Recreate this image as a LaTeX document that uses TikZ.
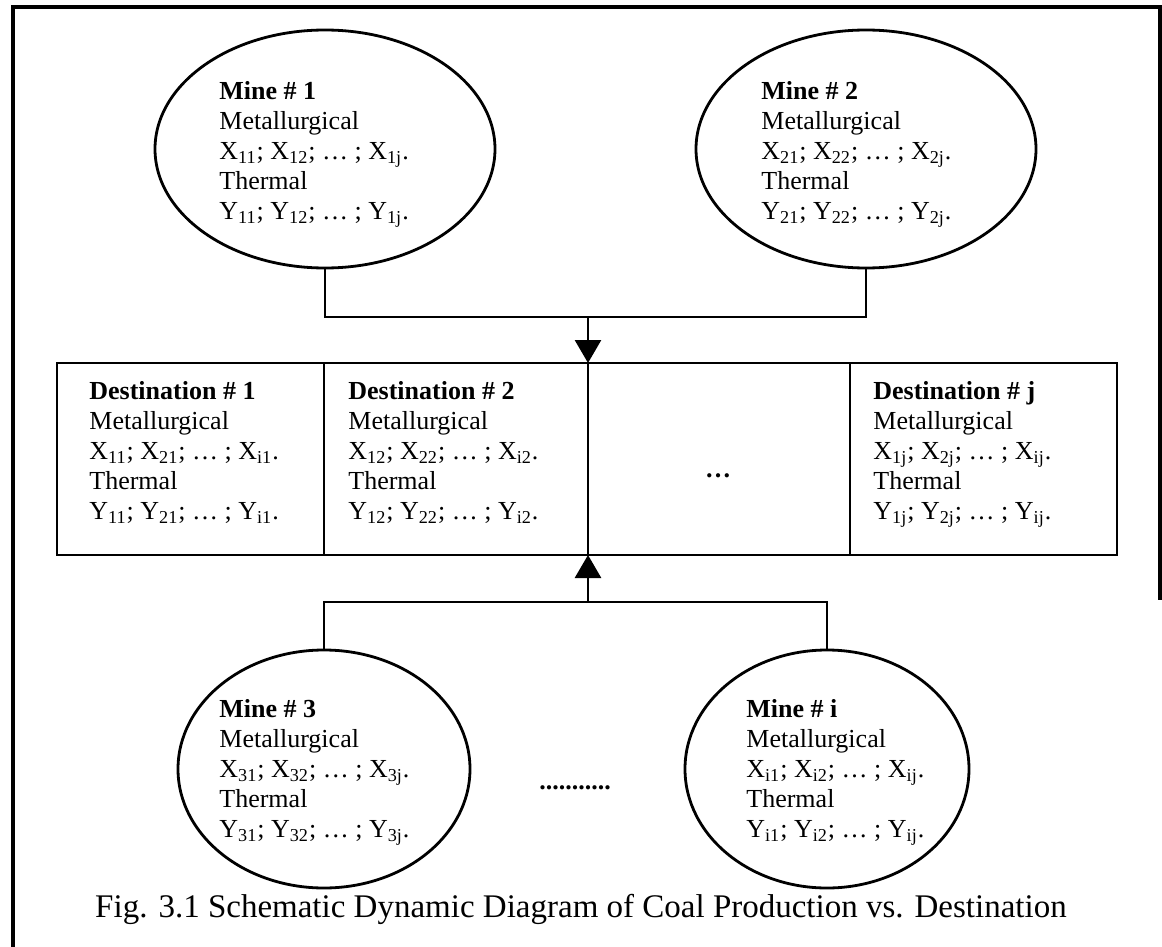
\documentclass[tikz,border=0pt]{standalone}
\usepackage{fontspec}
\setmainfont{Liberation Serif}
\usetikzlibrary{arrows.meta,shapes.geometric}

\newcommand\bodyfnt{\fontsize{13pt}{15pt}\selectfont}
\newcommand\mX[1]{X\textsubscript{#1}}
\newcommand\mY[1]{Y\textsubscript{#1}}

\begin{document}
\begin{tikzpicture}[x=0.5pt,y=-0.5pt,
  line width=1.4pt,
  mine/.style={draw, ellipse, minimum height=119pt, inner sep=0pt, outer sep=0pt},
  cell/.style={draw, rectangle, minimum height=96pt, inner sep=0pt, outer sep=0pt, anchor=north west},
  lbl/.style={align=left, inner sep=0pt, anchor=north west, font=\bodyfnt},
  flow/.style={-{Triangle[width=13pt,length=11.5pt]}},
]
\useasboundingbox (0,0) rectangle (1162,947);

% outer frame
\draw[line width=1.7pt] (13,947) -- (13,7) -- (1160,7) -- (1160,600);

% mines (sources)
\node[mine, minimum width=170pt] (m1) at (325,149) {};
\node[mine, minimum width=170pt] (m2) at (866,149) {};
\node[mine, minimum width=146pt] (m3) at (324,769) {};
\node[mine, minimum width=142pt] (mi) at (827,769) {};

\node[lbl] (t1) at (218,80) {\textbf{Mine \# 1}\\Metallurgical\\\mX{11}; \mX{12}; … ; \mX{1j}.\\Thermal\\\mY{11}; \mY{12}; … ; \mY{1j}.};
\node[lbl] (t2) at (760,80) {\textbf{Mine \# 2}\\Metallurgical\\\mX{21}; \mX{22}; … ; \mX{2j}.\\Thermal\\\mY{21}; \mY{22}; … ; \mY{2j}.};
\node[lbl] (t3) at (218,698) {\textbf{Mine \# 3}\\Metallurgical\\\mX{31}; \mX{32}; … ; \mX{3j}.\\Thermal\\\mY{31}; \mY{32}; … ; \mY{3j}.};
\node[lbl] (ti) at (745,698) {\textbf{Mine \# i}\\Metallurgical\\\mX{i1}; \mX{i2}; … ; \mX{ij}.\\Thermal\\\mY{i1}; \mY{i2}; … ; \mY{ij}.};

% destinations row
\node[cell, minimum width=133.5pt] (c1) at (57,363) {};
\node[cell, minimum width=132pt] (c2) at (324,363) {};
\node[cell, minimum width=131pt] (c3) at (588,363) {};
\node[cell, minimum width=133.5pt] (c4) at (850,363) {};

\node[lbl] (d1) at (88,380) {\textbf{Destination \# 1}\\Metallurgical\\\mX{11}; \mX{21}; … ; \mX{i1}.\\Thermal\\\mY{11}; \mY{21}; … ; \mY{i1}.};
\node[lbl] (d2) at (347,380) {\textbf{Destination \# 2}\\Metallurgical\\\mX{12}; \mX{22}; … ; \mX{i2}.\\Thermal\\\mY{12}; \mY{22}; … ; \mY{i2}.};
\node[lbl] (dj) at (872,380) {\textbf{Destination \# j}\\Metallurgical\\\mX{1j}; \mX{2j}; … ; \mX{ij}.\\Thermal\\\mY{1j}; \mY{2j}; … ; \mY{ij}.};
\node[font=\bodyfnt\bfseries, inner sep=0pt, anchor=base] (dd) at (718,477) {…};

% gaps between the lower mines
\node[font=\bodyfnt\bfseries, inner sep=0pt, anchor=base] (md) at (575,789) {...........};

% flows from the upper mines
\coordinate (jt) at (588,317);
\draw (m1.south) -- ++(0,49) -| (m2.south);
\draw[flow] (jt) -- (c2.north east);

% flows from the lower mines
\coordinate (jb) at (588,602);
\draw (m3.north) -- ++(0,-48) -| (mi.north);
\draw[flow] (jb) -- (c2.south east);

% caption
\node[font=\fontsize{16.5pt}{18pt}\selectfont, inner sep=0pt, anchor=base] (cap) at (581,917)
  {Fig. 3.1 Schematic Dynamic Diagram of Coal Production vs. Destination};
\end{tikzpicture}
\end{document}
